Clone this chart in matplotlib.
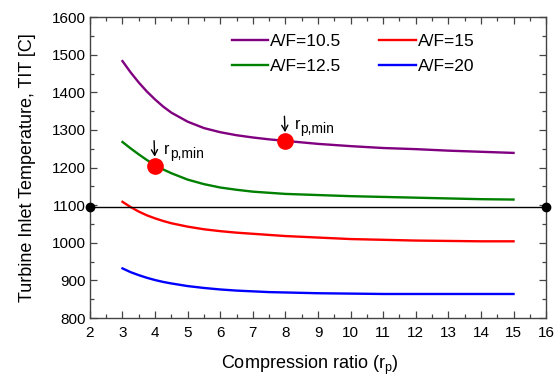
import matplotlib
matplotlib.use("Agg")
import matplotlib.pyplot as plt
from matplotlib.ticker import MultipleLocator

plt.rcParams['font.family'] = ['Liberation Sans', 'DejaVu Sans']
plt.rcParams['mathtext.fontset'] = 'custom'
plt.rcParams['mathtext.rm'] = 'Liberation Sans'
plt.rcParams['mathtext.it'] = 'Liberation Sans'

# Compression ratio grid
rp = [3, 3.25, 3.5, 3.75, 4, 4.25, 4.5, 5, 5.5, 6, 6.5, 7, 7.5, 8,
      9, 10, 11, 12, 13, 14, 15]

# Turbine inlet temperature [C] for each air/fuel ratio
tit_af105 = [1483, 1453, 1426, 1402, 1381, 1362, 1346, 1322, 1305, 1294, 1286,
             1280, 1275, 1271, 1263, 1257, 1252, 1249, 1245, 1242, 1239]
tit_af125 = [1268, 1251, 1235, 1220, 1207, 1195, 1185, 1168, 1156, 1147, 1141,
             1136, 1133, 1130, 1127, 1124, 1122, 1120, 1118, 1116, 1115]
tit_af15 = [1109, 1095, 1083, 1073, 1065, 1058, 1052, 1043, 1036, 1031, 1027,
            1024, 1021, 1018, 1014, 1010, 1008, 1006, 1005, 1004, 1004]
tit_af20 = [932, 922, 914, 907, 901, 896, 892, 885, 880, 876, 873,
            871, 869, 868, 866, 865, 864, 864, 864, 864, 864]

# Minimum compression ratio points
rp_min = [4, 8]
tit_min = [1205, 1270]

# Reference temperature line
tit_limit = 1095

fig = plt.figure(figsize=(5.55, 3.8), dpi=100)
ax = fig.add_axes([0.162, 0.163, 0.822, 0.792])

ax.plot(rp, tit_af105, color='#800080', lw=1.7, label='A/F=10.5')
ax.plot(rp, tit_af125, color='#008000', lw=1.7, label='A/F=12.5')
ax.plot(rp, tit_af15, color='#ff0000', lw=1.7, label='A/F=15')
ax.plot(rp, tit_af20, color='#0000ff', lw=1.7, label='A/F=20')

ax.axhline(tit_limit, color='black', lw=1.0)
ax.plot([2, 16], [tit_limit, tit_limit], 'o', color='black', ms=6,
        clip_on=False, zorder=5)

ax.plot(rp_min, tit_min, 'o', color='#ff0000', ms=11, zorder=6)
for x, y in zip(rp_min, tit_min):
    # downward arrow pointing at the marker
    ax.annotate('', xy=(x, y), xytext=(-1, 25), textcoords='offset pixels',
                arrowprops=dict(arrowstyle='->,head_length=0.4,head_width=0.22',
                                lw=1.0, color='black', shrinkA=0, shrinkB=6.5))
    ax.annotate('r', xy=(x, y), xytext=(9, 12), textcoords='offset pixels',
                ha='left', va='baseline', fontsize=11.5)
    ax.annotate('p,min', xy=(x, y), xytext=(15, 8), textcoords='offset pixels',
                ha='left', va='baseline', fontsize=10)

ax.set_xlim(2, 16)
ax.set_ylim(800, 1600)
ax.xaxis.set_major_locator(MultipleLocator(1))
ax.xaxis.set_minor_locator(MultipleLocator(0.5))
ax.yaxis.set_major_locator(MultipleLocator(100))
ax.yaxis.set_minor_locator(MultipleLocator(50))
ax.tick_params(which='both', direction='in', top=True, right=True,
               labelsize=11, width=0.9, color='#444444')
ax.tick_params(which='major', length=5)
ax.tick_params(which='minor', length=3)
ax.tick_params(axis='x', pad=6)
ax.tick_params(axis='y', pad=3)
for s in ax.spines.values():
    s.set_color('#444444')
    s.set_linewidth(1.0)

ax.set_xlabel(r'Compression ratio (r$_{\mathrm{p}}$)', fontsize=13, labelpad=10)
ax.xaxis.label.set_x(0.482)
ax.set_ylabel('Turbine Inlet Temperature, TIT [C]', fontsize=13, labelpad=11)

ax.legend(ncol=2, loc='upper left', bbox_to_anchor=(0.311, 0.944), frameon=False,
          fontsize=12.5, handlelength=2.1, handletextpad=0.1, columnspacing=2.2,
          labelspacing=0.55, borderaxespad=0.0, borderpad=0.0)

fig.savefig('out.png', dpi=100)
